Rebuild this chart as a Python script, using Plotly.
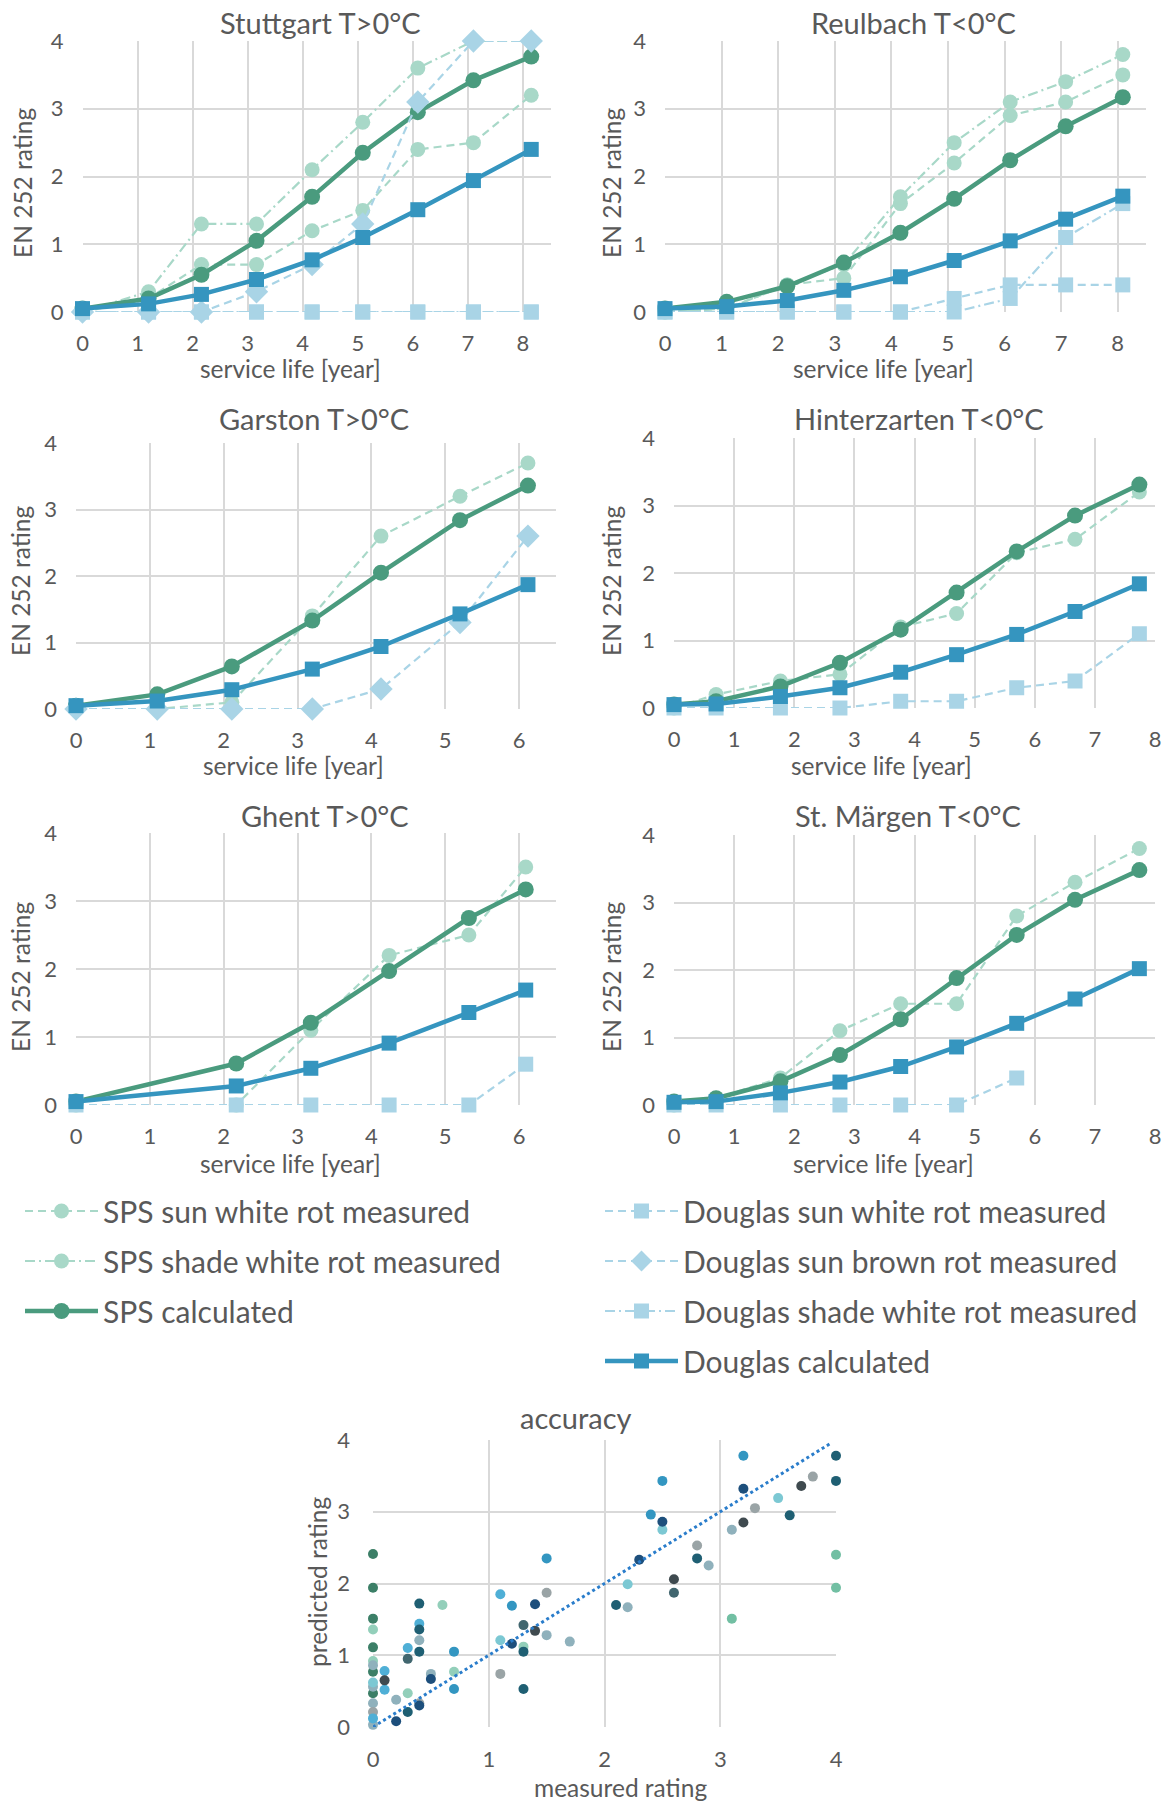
import plotly.graph_objects as go

W, H = 1170, 1801
FONT = "Lato"
TXT = "#595959"
GRID = "#D9D9D9"

# ---------------- colours ----------------
C_SPS_MEAS = "#A8D8C8"
C_SPS_CALC = "#4A9B7E"
C_DG_MEAS = "#A9D4E6"
C_DG_CALC = "#3595BF"

# ---------------- data ----------------
# Stuttgart T>0°C
stu_x = [0, 1.2, 2.16, 3.16, 4.17, 5.09, 6.09, 7.1, 8.15]
stu_sps_sun = [0, 0.2, 0.7, 0.7, 1.2, 1.5, 2.4, 2.5, 3.2]
stu_sps_shade = [0, 0.3, 1.3, 1.3, 2.1, 2.8, 3.6, 4.0, 4.0]
stu_sps_calc = [0.05, 0.2, 0.55, 1.05, 1.7, 2.35, 2.95, 3.42, 3.77]
stu_dg_sun_white = [0, 0, 0, 0, 0, 0, 0, 0, 0]
stu_dg_brown = [0, 0, 0, 0.3, 0.7, 1.3, 3.1, 4.0, 4.0]
stu_dg_shade = [0, 0, 0, 0, 0, 0, 0, 0, 0]
stu_dg_calc = [0.05, 0.12, 0.26, 0.48, 0.77, 1.1, 1.51, 1.94, 2.4]

# Reulbach T<0°C
reu_x = [0, 1.09, 2.16, 3.16, 4.16, 5.11, 6.1, 7.08, 8.09]
reu_sps_sun = [0, 0.05, 0.4, 0.5, 1.6, 2.2, 2.9, 3.1, 3.5]
reu_sps_shade = [0, 0.05, 0.4, 0.7, 1.7, 2.5, 3.1, 3.4, 3.8]
reu_sps_calc = [0.05, 0.15, 0.38, 0.73, 1.17, 1.67, 2.24, 2.74, 3.17]
reu_dg_sun_white = [0, 0, 0, 0, 0, 0.2, 0.4, 0.4, 0.4]
reu_dg_shade = [0, 0, 0, 0, 0, 0, 0.2, 1.1, 1.6]
reu_dg_calc = [0.05, 0.08, 0.17, 0.32, 0.52, 0.76, 1.05, 1.37, 1.71]

# Garston T>0°C
gar_x = [0, 1.1, 2.11, 3.2, 4.13, 5.2, 6.12]
gar_sps_sun = [0, 0, 0.1, 1.4, 2.6, 3.2, 3.7]
gar_sps_calc = [0.05, 0.22, 0.64, 1.33, 2.05, 2.84, 3.36]
gar_dg_brown = [0, 0, 0, 0, 0.3, 1.3, 2.6]
gar_dg_calc = [0.05, 0.12, 0.29, 0.6, 0.94, 1.43, 1.87]

# Hinterzarten T<0°C
hin_x = [0, 0.7, 1.77, 2.76, 3.77, 4.7, 5.7, 6.67, 7.74]
hin_sps_sun = [0, 0.2, 0.4, 0.5, 1.2, 1.4, 2.3, 2.5, 3.2]
hin_sps_calc = [0.05, 0.1, 0.32, 0.67, 1.16, 1.71, 2.32, 2.85, 3.31]
hin_dg_sun_white = [0, 0, 0, 0, 0.1, 0.1, 0.3, 0.4, 1.1]
hin_dg_calc = [0.05, 0.06, 0.17, 0.3, 0.53, 0.79, 1.09, 1.43, 1.84]

# Ghent T>0°C
ghe_x = [0, 2.17, 3.18, 4.24, 5.32, 6.09]
ghe_sps_sun = [0, 0, 1.1, 2.2, 2.5, 3.5]
ghe_sps_calc = [0.05, 0.61, 1.21, 1.97, 2.75, 3.17]
ghe_dg_sun_white = [0, 0, 0, 0, 0, 0.6]
ghe_dg_calc = [0.05, 0.28, 0.54, 0.91, 1.36, 1.69]

# St. Märgen T<0°C
stm_x = [0, 0.7, 1.77, 2.76, 3.77, 4.7, 5.7, 6.67, 7.74]
stm_sps_sun = [0, 0.1, 0.4, 1.1, 1.5, 1.5, 2.8, 3.3, 3.8]
stm_sps_calc = [0.05, 0.1, 0.35, 0.74, 1.27, 1.88, 2.52, 3.04, 3.48]
stm_dg_sun_white = [0, 0, 0, 0, 0, 0, 0.4, None, None]
stm_dg_calc = [0.04, 0.05, 0.18, 0.34, 0.57, 0.86, 1.21, 1.57, 2.02]

# accuracy scatter (measured, predicted), grouped by marker colour
acc_dark_green_x = [0, 0, 0, 0, 0, 0]
acc_dark_green_y = [2.41, 1.94, 1.51, 1.11, 0.77, 0.47]
acc_light_green_x = [0, 0, 0.3, 0.6, 0.7, 1.3]
acc_light_green_y = [1.36, 0.92, 0.47, 1.70, 0.77, 1.12]
acc_mid_green_x = [3.1, 4.0, 4.0]
acc_mid_green_y = [1.51, 2.40, 1.94]
acc_greyblue_x = [0, 0, 0, 0.2, 0.4, 0.5, 1.5, 1.7, 2.2, 2.9, 3.1, 0]
acc_greyblue_y = [0.86, 0.56, 0.33, 0.38, 1.21, 0.74, 1.28, 1.19, 1.67, 2.25, 2.75, 0.03]
acc_grey_x = [0, 0.4, 1.1, 1.5, 2.8, 3.3, 3.8]
acc_grey_y = [0.21, 0.33, 0.74, 1.87, 2.53, 3.05, 3.49]
acc_light_cyan_x = [0, 1.1, 2.2, 2.5, 3.5]
acc_light_cyan_y = [0.62, 1.21, 1.99, 2.75, 3.19]
acc_cyan_x = [0.1, 0.1, 0.3, 0.4, 1.1, 0]
acc_cyan_y = [0.78, 0.52, 1.10, 1.44, 1.85, 0.12]
acc_blue_x = [0.7, 0.7, 1.2, 1.5, 2.4, 2.5, 3.2]
acc_blue_y = [1.05, 0.53, 1.69, 2.35, 2.96, 3.43, 3.78]
acc_navy_x = [0.2, 0.4, 0.5, 1.2, 1.4, 2.3, 2.5, 3.2]
acc_navy_y = [0.08, 0.30, 0.67, 1.16, 1.71, 2.33, 2.86, 3.32]
acc_teal_x = [0.3, 0.4, 0.4, 0.4, 1.3, 1.3, 2.1, 2.8, 3.6, 4.0, 4.0]
acc_teal_y = [0.21, 1.72, 1.36, 1.05, 1.05, 0.53, 1.70, 2.35, 2.95, 3.78, 3.43]
acc_dark_grey_x = [0.1, 1.4, 2.6, 3.2, 3.7]
acc_dark_grey_y = [0.65, 1.34, 2.06, 2.85, 3.36]
acc_slate_x = [0.3, 1.3, 2.6]
acc_slate_y = [0.95, 1.42, 1.87]
acc_trend_x = [0, 3.95]
acc_trend_y = [0, 3.95]

# ---------------- layout geometry (pixels) ----------------
panels = [
    dict(title="Stuttgart T>0°C", xmax=8.5, box=(82.5, 550.5, 41, 312), tc=(320, 23), xt=(290, 368), yt=(22, 183)),
    dict(title="Reulbach T<0°C", xmax=8.5, box=(665, 1146, 41, 312), tc=(913, 23), xt=(883, 368), yt=(611, 183)),
    dict(title="Garston T>0°C", xmax=6.5, box=(76, 556, 443, 709), tc=(314, 418), xt=(293, 765), yt=(21, 581)),
    dict(title="Hinterzarten T<0°C", xmax=8, box=(674, 1155, 438, 708), tc=(919, 418), xt=(881, 765), yt=(612, 581)),
    dict(title="Ghent T>0°C", xmax=6.5, box=(76, 556, 833, 1105), tc=(325, 815), xt=(290, 1163), yt=(21, 977)),
    dict(title="St. Märgen T<0°C", xmax=8, box=(674, 1155, 835, 1105), tc=(908, 815), xt=(883, 1163), yt=(612, 977)),
]

SERIES = {
    "sps_sun": dict(name="SPS sun white rot measured", color=C_SPS_MEAS, dash="8px,5px", width=2.2,
                    symbol="circle", size=15, legend="legend"),
    "sps_shade": dict(name="SPS shade white rot measured", color=C_SPS_MEAS, dash="10px,4px,2px,4px", width=2.2,
                      symbol="circle", size=15, legend="legend"),
    "sps_calc": dict(name="SPS calculated", color=C_SPS_CALC, dash="solid", width=4.5,
                     symbol="circle", size=16, legend="legend"),
    "dg_sun_white": dict(name="Douglas sun white rot measured", color=C_DG_MEAS, dash="8px,5px", width=2.2,
                         symbol="square", size=15, legend="legend2"),
    "dg_brown": dict(name="Douglas sun brown rot measured", color=C_DG_MEAS, dash="8px,5px", width=2.2,
                     symbol="diamond", size=18, legend="legend2"),
    "dg_shade": dict(name="Douglas shade white rot measured", color=C_DG_MEAS, dash="10px,4px,2px,4px", width=2.2,
                     symbol="square", size=15, legend="legend2"),
    "dg_calc": dict(name="Douglas calculated", color=C_DG_CALC, dash="solid", width=4.5,
                    symbol="square", size=15, legend="legend2"),
}
ORDER = ["sps_sun", "sps_shade", "sps_calc", "dg_sun_white", "dg_brown", "dg_shade", "dg_calc"]

panel_data = [
    (stu_x, dict(sps_sun=stu_sps_sun, sps_shade=stu_sps_shade, sps_calc=stu_sps_calc,
                 dg_sun_white=stu_dg_sun_white, dg_brown=stu_dg_brown, dg_shade=stu_dg_shade,
                 dg_calc=stu_dg_calc)),
    (reu_x, dict(sps_sun=reu_sps_sun, sps_shade=reu_sps_shade, sps_calc=reu_sps_calc,
                 dg_sun_white=reu_dg_sun_white, dg_shade=reu_dg_shade, dg_calc=reu_dg_calc)),
    (gar_x, dict(sps_sun=gar_sps_sun, sps_calc=gar_sps_calc, dg_brown=gar_dg_brown, dg_calc=gar_dg_calc)),
    (hin_x, dict(sps_sun=hin_sps_sun, sps_calc=hin_sps_calc, dg_sun_white=hin_dg_sun_white,
                 dg_calc=hin_dg_calc)),
    (ghe_x, dict(sps_sun=ghe_sps_sun, sps_calc=ghe_sps_calc, dg_sun_white=ghe_dg_sun_white,
                 dg_calc=ghe_dg_calc)),
    (stm_x, dict(sps_sun=stm_sps_sun, sps_calc=stm_sps_calc, dg_sun_white=stm_dg_sun_white,
                 dg_calc=stm_dg_calc)),
]

TITLE_SIZE = 29
AXT_SIZE = 24.5
TICK_SIZE = 22
LEG_SIZE = 30


def px_x(p):
    return p / W


def px_y(p):
    return 1 - p / H


fig = go.Figure()
annotations = []
layout_axes = {}

tick_font = dict(family=FONT, size=TICK_SIZE, color=TXT)

for i, (pan, (xs, series)) in enumerate(zip(panels, panel_data), start=1):
    xa = "x" if i == 1 else f"x{i}"
    ya = "y" if i == 1 else f"y{i}"
    for key in ORDER:
        if key not in series:
            continue
        s = SERIES[key]
        fig.add_trace(go.Scatter(
            x=xs, y=series[key], mode="lines+markers", name=s["name"],
            line=dict(color=s["color"], width=s["width"], dash=s["dash"]),
            marker=dict(symbol=s["symbol"], size=s["size"], color=s["color"]),
            xaxis=xa, yaxis=ya, cliponaxis=False,
            legend=s["legend"], legendgroup=key, showlegend=(i == 1),
        ))
    l, r, t, b = pan["box"]
    xkey = "xaxis" if i == 1 else f"xaxis{i}"
    ykey = "yaxis" if i == 1 else f"yaxis{i}"
    xmax_int = int(pan["xmax"])
    layout_axes[xkey] = dict(
        domain=[px_x(l), px_x(r)], range=[0, pan["xmax"]], anchor=ya,
        tickvals=list(range(0, xmax_int + 1)), showgrid=True, gridcolor=GRID, gridwidth=2,
        zeroline=False, showline=False, tickfont=tick_font, ticks="", ticklabelstandoff=16,
        fixedrange=True, automargin=False,
    )
    layout_axes[ykey] = dict(
        domain=[px_y(b), px_y(t)], range=[0, 4], anchor=xa,
        tickvals=[0, 1, 2, 3, 4], showgrid=True, gridcolor=GRID, gridwidth=2,
        zeroline=False, showline=False, tickfont=tick_font, ticks="", ticklabelstandoff=18,
        fixedrange=True, automargin=False,
    )
    annotations.append(dict(text=pan["title"], x=px_x(pan["tc"][0]), y=px_y(pan["tc"][1]),
                            xref="paper", yref="paper", showarrow=False, xanchor="center",
                            yanchor="middle", font=dict(family=FONT, size=TITLE_SIZE, color=TXT)))
    annotations.append(dict(text="service life [year]", x=px_x(pan["xt"][0]), y=px_y(pan["xt"][1]),
                            xref="paper", yref="paper", showarrow=False, xanchor="center",
                            yanchor="middle", font=dict(family=FONT, size=AXT_SIZE, color=TXT)))
    annotations.append(dict(text="EN 252 rating", x=px_x(pan["yt"][0]), y=px_y(pan["yt"][1]),
                            xref="paper", yref="paper", showarrow=False, xanchor="center",
                            yanchor="middle", textangle=-90,
                            font=dict(family=FONT, size=AXT_SIZE, color=TXT)))

# ---------------- accuracy panel ----------------
acc_groups = [
    (acc_dark_green_x, acc_dark_green_y, "#3C7F67"),
    (acc_light_green_x, acc_light_green_y, "#93CFBA"),
    (acc_mid_green_x, acc_mid_green_y, "#72BFA3"),
    (acc_greyblue_x, acc_greyblue_y, "#8FB1BC"),
    (acc_grey_x, acc_grey_y, "#9AA4A6"),
    (acc_light_cyan_x, acc_light_cyan_y, "#7CC8D3"),
    (acc_cyan_x, acc_cyan_y, "#4FAFD6"),
    (acc_blue_x, acc_blue_y, "#3396C1"),
    (acc_navy_x, acc_navy_y, "#1D4F7C"),
    (acc_teal_x, acc_teal_y, "#1F5F73"),
    (acc_dark_grey_x, acc_dark_grey_y, "#3F4A4F"),
    (acc_slate_x, acc_slate_y, "#41666F"),
]
for gx, gy, col in acc_groups:
    fig.add_trace(go.Scatter(x=gx, y=gy, mode="markers", marker=dict(size=10, color=col),
                             xaxis="x7", yaxis="y7", showlegend=False, cliponaxis=False))
fig.add_trace(go.Scatter(x=acc_trend_x, y=acc_trend_y, mode="lines",
                         line=dict(color="#2A7DCB", width=3, dash="dot"),
                         xaxis="x7", yaxis="y7", showlegend=False, cliponaxis=False))

layout_axes["xaxis7"] = dict(
    domain=[px_x(373), px_x(836)], range=[0, 4], anchor="y7", tickvals=[0, 1, 2, 3, 4],
    showgrid=True, gridcolor=GRID, gridwidth=2, zeroline=False, showline=False,
    tickfont=tick_font, ticks="", ticklabelstandoff=17, fixedrange=True, automargin=False,
)
layout_axes["yaxis7"] = dict(
    domain=[px_y(1727), px_y(1440)], range=[0, 4], anchor="x7", tickvals=[0, 1, 2, 3, 4],
    showgrid=True, gridcolor=GRID, gridwidth=2, zeroline=False, showline=False,
    tickfont=tick_font, ticks="", ticklabelstandoff=22, fixedrange=True, automargin=False,
)
annotations.append(dict(text="accuracy", x=px_x(576), y=px_y(1417), xref="paper", yref="paper",
                        showarrow=False, xanchor="center", yanchor="middle",
                        font=dict(family=FONT, size=TITLE_SIZE, color=TXT)))
annotations.append(dict(text="measured rating", x=px_x(620), y=px_y(1787), xref="paper", yref="paper",
                        showarrow=False, xanchor="center", yanchor="middle",
                        font=dict(family=FONT, size=AXT_SIZE, color=TXT)))
annotations.append(dict(text="predicted rating", x=px_x(317), y=px_y(1582), xref="paper", yref="paper",
                        showarrow=False, xanchor="center", yanchor="middle", textangle=-90,
                        font=dict(family=FONT, size=AXT_SIZE, color=TXT)))

legend_font = dict(family=FONT, size=LEG_SIZE, color=TXT)
fig.update_layout(
    width=W, height=H, margin=dict(l=0, r=0, t=0, b=0, pad=0, autoexpand=False),
    paper_bgcolor="white", plot_bgcolor="white",
    font=dict(family=FONT, color=TXT),
    annotations=annotations,
    legend=dict(x=px_x(20), y=px_y(1185), xanchor="left", yanchor="top", font=legend_font,
                bgcolor="rgba(0,0,0,0)", tracegroupgap=8, itemwidth=73, traceorder="grouped"),
    legend2=dict(x=px_x(600), y=px_y(1185), xanchor="left", yanchor="top", font=legend_font,
                 bgcolor="rgba(0,0,0,0)", tracegroupgap=8, itemwidth=73, traceorder="grouped"),
    **layout_axes,
)

fig.write_html("out.html")
